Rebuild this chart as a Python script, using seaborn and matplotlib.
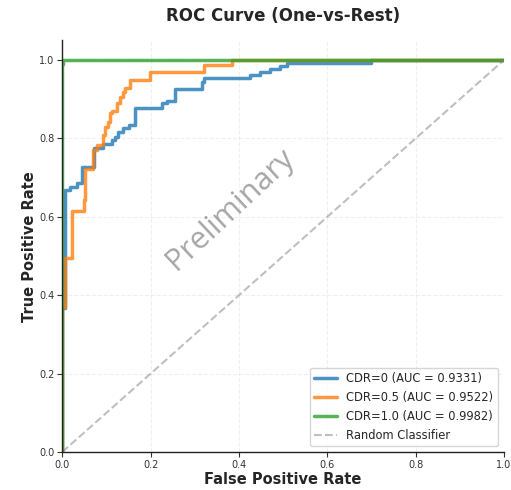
import matplotlib
matplotlib.use("Agg")
import matplotlib.pyplot as plt
import seaborn as sns
import pandas as pd

# ---- data ----
fpr_cdr0 = [0, 0, 0.007, 0.007, 0.018, 0.018, 0.033, 0.033, 0.045, 0.045, 0.072, 0.072,
            0.093, 0.093, 0.112, 0.112, 0.119, 0.119, 0.127, 0.127, 0.138, 0.138, 0.150, 0.150,
            0.165, 0.165, 0.225, 0.225, 0.236, 0.236, 0.255, 0.255, 0.316, 0.316, 0.320, 0.320,
            0.425, 0.425, 0.448, 0.448, 0.471, 0.471, 0.494, 0.494, 0.509, 0.509, 0.700, 0.700, 1.0]
tpr_cdr0 = [0, 0.367, 0.367, 0.668, 0.668, 0.677, 0.677, 0.685, 0.685, 0.728, 0.728, 0.775,
            0.775, 0.785, 0.785, 0.796, 0.796, 0.804, 0.804, 0.816, 0.816, 0.827, 0.827, 0.834,
            0.834, 0.877, 0.877, 0.890, 0.890, 0.895, 0.895, 0.926, 0.926, 0.945, 0.945, 0.955,
            0.955, 0.962, 0.962, 0.970, 0.970, 0.977, 0.977, 0.985, 0.985, 0.992, 0.992, 1.0, 1.0]

fpr_cdr05 = [0, 0, 0.006, 0.006, 0.022, 0.022, 0.048, 0.048, 0.052, 0.052, 0.070, 0.070,
             0.079, 0.079, 0.093, 0.093, 0.097, 0.097, 0.104, 0.104, 0.108, 0.108, 0.112, 0.112,
             0.123, 0.123, 0.131, 0.131, 0.138, 0.138, 0.142, 0.142, 0.154, 0.154, 0.198, 0.198,
             0.320, 0.320, 0.384, 0.384, 1.0]
tpr_cdr05 = [0, 0.37, 0.37, 0.494, 0.494, 0.615, 0.615, 0.643, 0.643, 0.722, 0.722, 0.77,
             0.77, 0.783, 0.783, 0.809, 0.809, 0.83, 0.83, 0.843, 0.843, 0.864, 0.864, 0.87,
             0.87, 0.89, 0.89, 0.906, 0.906, 0.919, 0.919, 0.928, 0.928, 0.949, 0.949, 0.97,
             0.97, 0.987, 0.987, 1.0, 1.0]

fpr_cdr1 = [0, 0, 0.002, 0.002, 1.0]
tpr_cdr1 = [0, 0.99, 0.99, 1.0, 1.0]

class_names = ["CDR=0", "CDR=0.5", "CDR=1.0"]
auc_values = [0.9331, 0.9522, 0.9982]
colors = ["#1f77b4", "#ff7f0e", "#2ca02c"]

chance_x = [0, 1]
chance_y = [0, 1]

# ---- plot ----
sns.set_style("ticks")
plt.rcParams["font.family"] = ["DejaVu Sans"]

fig = plt.figure(figsize=(5.11, 4.90), dpi=100)
ax = fig.add_axes([62.3 / 511, 38 / 490, (504 - 62.3) / 511, (452 - 40.4) / 490])

curves = [(fpr_cdr0, tpr_cdr0), (fpr_cdr05, tpr_cdr05), (fpr_cdr1, tpr_cdr1)]
for (fx, ty), name, auc, col in zip(curves, class_names, auc_values, colors):
    df = pd.DataFrame({"fpr": fx, "tpr": ty})
    sns.lineplot(data=df, x="fpr", y="tpr", sort=False, estimator=None, ax=ax,
                 color=col, lw=2.5, alpha=0.8, label=f"{name} (AUC = {auc:.4f})")

sns.lineplot(x=chance_x, y=chance_y, ax=ax, color="gray", lw=1.5, alpha=0.5,
             linestyle="--", label="Random Classifier")

ax.set_xlim(0, 1.0)
ax.set_ylim(0, 1.05)
ax.set_xticks([0, 0.2, 0.4, 0.6, 0.8, 1.0])
ax.set_yticks([0, 0.2, 0.4, 0.6, 0.8, 1.0])
ax.tick_params(labelsize=7, length=3.5, width=0.8, pad=2, colors="#333333", labelcolor="#333333")
ax.grid(True, linestyle="--", alpha=0.3)
sns.despine(ax=ax)
for s in ["left", "bottom"]:
    ax.spines[s].set_color("#222222")
    ax.spines[s].set_linewidth(1.0)

ax.set_xlabel("False Positive Rate", fontsize=10.5, fontweight="bold", labelpad=1.5)
ax.set_ylabel("True Positive Rate", fontsize=10.5, fontweight="bold", labelpad=1.5)
ax.set_title("ROC Curve (One-vs-Rest)", fontsize=12, fontweight="bold", pad=14)

leg = ax.legend(loc="lower right", fontsize=8.3, frameon=True)
leg.get_frame().set_edgecolor("#cccccc")

ax.text(0.38, 0.59, "Preliminary", transform=ax.transAxes, fontsize=22,
        family=["Open Sans", "DejaVu Sans"], color="gray", alpha=0.7,
        rotation=43, ha="center", va="center")

fig.savefig("out.png", dpi=100)
